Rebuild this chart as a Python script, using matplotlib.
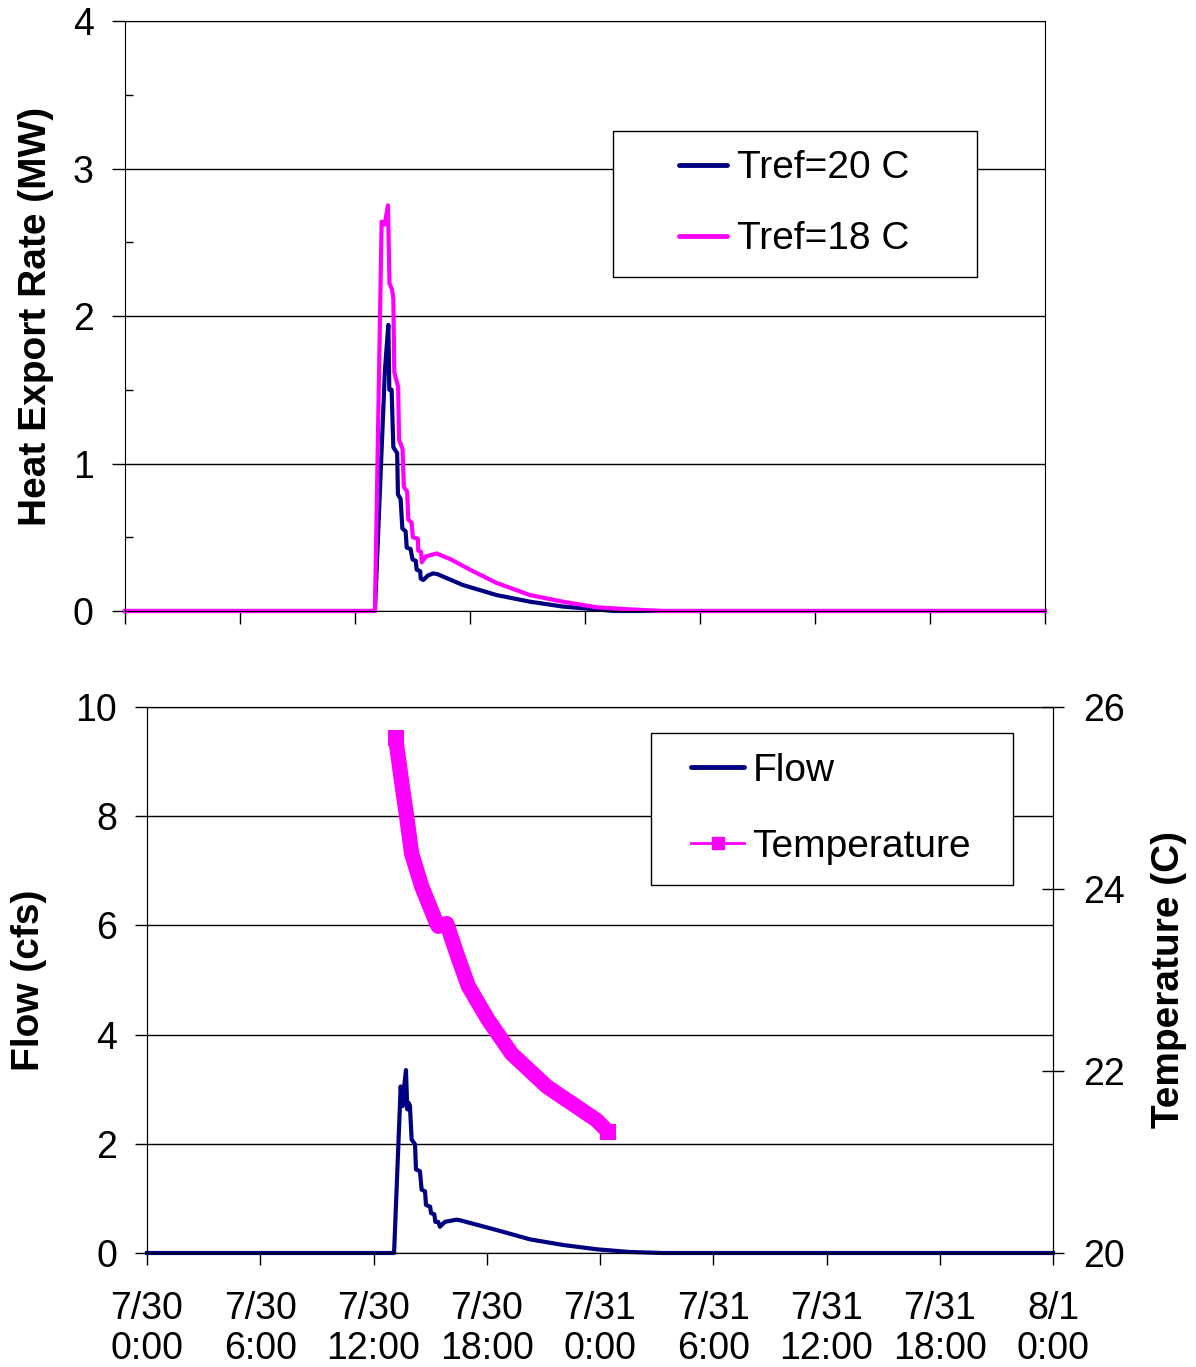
import matplotlib.pyplot as plt
from matplotlib.lines import Line2D
from matplotlib.legend_handler import HandlerLine2D

plt.rcParams['font.family'] = ['Liberation Sans', 'DejaVu Sans']

# time in hours after 7/30 0:00
h_t20 = [0, 13.04, 13.56, 13.74, 13.79, 13.91, 14.0, 14.2, 14.24, 14.38, 14.47,
         14.64, 14.7, 14.9, 15.0, 15.17, 15.22, 15.4, 15.43, 15.56, 15.8, 16.07,
         16.3, 17.63, 19.39, 21.13, 22.85, 24.61, 25.5, 48]
q_t20 = [0, 0, 1.63, 1.94, 1.5, 1.5, 1.11, 1.07, 0.79, 0.76, 0.56,
         0.54, 0.43, 0.42, 0.35, 0.34, 0.28, 0.27, 0.22, 0.21, 0.24, 0.255,
         0.25, 0.176, 0.108, 0.063, 0.03, 0.011, 0.0, 0]

h_t18 = [0, 13.04, 13.39, 13.55, 13.72, 13.8, 13.93, 14.0, 14.05, 14.25, 14.3,
         14.48, 14.55, 14.72, 14.78, 14.95, 15.02, 15.28, 15.3, 15.45, 15.48,
         15.7, 16.26, 17.0, 18.0, 19.39, 21.13, 22.85, 24.61, 26.35, 28.07, 48]
q_t18 = [0, 0, 2.64, 2.62, 2.75, 2.22, 2.18, 2.12, 1.62, 1.52, 1.16,
         1.1, 0.84, 0.81, 0.62, 0.6, 0.5, 0.49, 0.41, 0.4, 0.33,
         0.37, 0.39, 0.35, 0.28, 0.19, 0.108, 0.063, 0.025, 0.011, 0.0, 0]

h_flow = [0, 13.09, 13.44, 13.55, 13.58, 13.72, 13.79, 13.86, 13.93, 14.02, 14.2,
          14.25, 14.46, 14.55, 14.73, 14.78, 15.0, 15.05, 15.22, 15.28, 15.43,
          15.52, 15.78, 16.4, 16.58, 18.53, 20.29, 22.06, 23.83, 25.59, 27.34, 48]
flow = [0, 0, 3.05, 2.69, 2.9, 3.35, 2.63, 2.75, 2.7, 2.08, 1.99,
        1.53, 1.5, 1.16, 1.13, 0.88, 0.85, 0.73, 0.71, 0.57, 0.57,
        0.48, 0.57, 0.61, 0.6, 0.42, 0.25, 0.146, 0.068, 0.018, 0, 0]

h_temp = [13.17, 13.53, 13.76, 14.02, 14.55, 15.35, 15.43, 15.88, 16.41, 17.03,
          18.08, 19.32, 21.18, 23.82, 24.44]
temp = [25.66, 25.12, 24.79, 24.39, 24.03, 23.62, 23.59, 23.62, 23.29, 22.93,
        22.56, 22.19, 21.83, 21.46, 21.33]

tick_hours = [0, 6, 12, 18, 24, 30, 36, 42, 48]
tick_labels = ['7/30\n0:00', '7/30\n6:00', '7/30\n12:00', '7/30\n18:00', '7/31\n0:00',
               '7/31\n6:00', '7/31\n12:00', '7/31\n18:00', '8/1\n0:00']

NAVY = '#000080'
MAGENTA = '#FF00FF'
W, H = 1196, 1367

fig = plt.figure(figsize=(W / 100, H / 100), dpi=100)

# ---- top chart: heat export rate
ax1 = fig.add_axes([125 / W, 1 - 611 / H, 920 / W, 590 / H])
ax1.plot(h_t20, q_t20, color=NAVY, lw=3, solid_joinstyle='round', clip_on=False)
ax1.plot(h_t18, q_t18, color=MAGENTA, lw=3, solid_joinstyle='round', clip_on=False)
ax1.set_xlim(0, 48)
ax1.set_ylim(0, 4)
ax1.set_xticks(tick_hours)
ax1.set_xticklabels([])
ax1.set_yticks([0, 1, 2, 3, 4])
ax1.set_yticks([0.5, 1.5, 2.5, 3.5], minor=True)
ax1.tick_params(which='major', direction='out', length=9.5, width=1, pad=13, labelsize=27)
ax1.tick_params(which='minor', axis='y', direction='in', length=6, width=1)
ax1.tick_params(which='minor', axis='x', length=0)
ax1.yaxis.grid(True, color='black', lw=1)
ax1.set_axisbelow(True)
ax1.set_ylabel('Heat Export Rate (MW)', fontsize=28, fontweight='bold')
ax1.yaxis.set_label_coords(-0.077, 0.5)

h1 = [Line2D([], [], color=NAVY, lw=3.5, solid_capstyle='round'),
      Line2D([], [], color=MAGENTA, lw=3.5, solid_capstyle='round')]
leg1 = ax1.legend(h1, ['Tref=20 C', 'Tref=18 C'], loc='upper left',
                  bbox_to_anchor=(0.530, 0.5, 0.3957, 0.3136), mode='expand',
                  borderaxespad=0, fontsize=28, handlelength=2.45, handletextpad=0.26,
                  borderpad=0.5, labelspacing=0.9, fancybox=False, edgecolor='black',
                  framealpha=1, handler_map={Line2D: HandlerLine2D(xpad=1.22)})
leg1.get_frame().set_linewidth(1)

# ---- bottom chart: flow and temperature
ax2 = fig.add_axes([147 / W, 1 - 1253 / H, 906 / W, 546 / H])
ax2.plot(h_flow, flow, color=NAVY, lw=3, solid_joinstyle='round', clip_on=False)
ax2.set_xlim(0, 48)
ax2.set_ylim(0, 10)
ax2.set_xticks(tick_hours)
ax2.set_xticklabels(tick_labels, linespacing=1.15)
ax2.set_yticks([0, 2, 4, 6, 8, 10])
ax2.tick_params(direction='out', length=8.5, width=1, pad=13, labelsize=27)
ax2.tick_params(axis='x', pad=19)
ax2.yaxis.grid(True, color='black', lw=1)
ax2.set_axisbelow(True)
ax2.set_ylabel('Flow (cfs)', fontsize=28, fontweight='bold')
ax2.yaxis.set_label_coords(-0.11, 0.5)

ax3 = ax2.twinx()
n = len(h_temp)
ax3.plot(h_temp, temp, color=MAGENTA, lw=11, marker='s', ms=11, mew=0,
         markevery=[0, n - 1], solid_joinstyle='round', solid_capstyle='butt')
ax3.set_ylim(20, 26)
ax3.set_yticks([20, 22, 24, 26])
ax3.tick_params(direction='inout', length=16, width=1, pad=13.5, labelsize=27)
ax3.set_ylabel('Temperature (C)', fontsize=28, fontweight='bold')
ax3.yaxis.set_label_coords(1.108, 0.5)

h2 = [Line2D([], [], color=NAVY, lw=3.5, solid_capstyle='round'),
      Line2D([], [], color=MAGENTA, lw=2, marker='s', ms=9)]
leg2 = ax3.legend(h2, ['Flow', 'Temperature'], loc='upper left',
                  bbox_to_anchor=(0.5563, 0.5, 0.3996, 0.4524), mode='expand',
                  borderaxespad=0, fontsize=28, handlelength=1.88, handletextpad=0.22,
                  borderpad=0.51, labelspacing=1.03, fancybox=False, edgecolor='black',
                  framealpha=1, handler_map={Line2D: HandlerLine2D(xpad=0.52)})
leg2.get_frame().set_linewidth(1)

fig.savefig('out.png', dpi=100)
